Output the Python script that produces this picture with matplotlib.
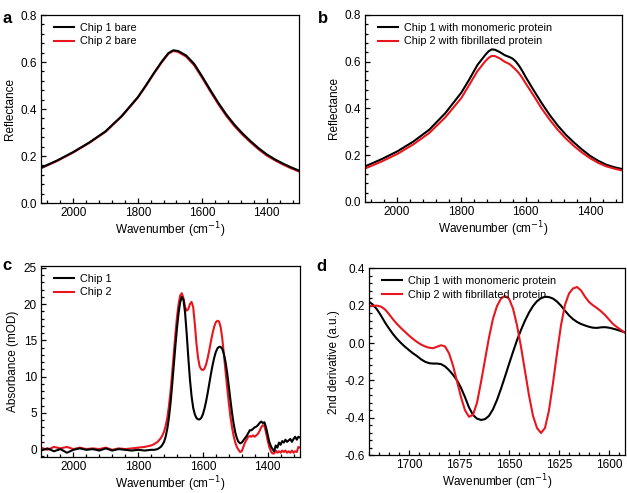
import numpy as np
import matplotlib
matplotlib.use('Agg')
import matplotlib.pyplot as plt
from matplotlib.ticker import AutoMinorLocator, FormatStrFormatter

plt.rcParams['font.family'] = ['Liberation Sans', 'DejaVu Sans']
plt.rcParams['axes.linewidth'] = 0.9

RED = '#e8161d'

# ---- panel a / b : reflectance ----
wn_ab = [2100, 2050, 2000, 1950, 1900, 1850, 1800, 1775, 1750, 1725, 1705, 1690,
         1675, 1650, 1625, 1600, 1575, 1550, 1525, 1500, 1475, 1450, 1425, 1400,
         1375, 1350, 1325, 1300]
a_chip1 = [0.150, 0.181, 0.217, 0.258, 0.305, 0.370, 0.450, 0.500, 0.553, 0.603, 0.638, 0.650,
           0.647, 0.628, 0.592, 0.538, 0.481, 0.426, 0.376, 0.333, 0.296, 0.263, 0.233, 0.207,
           0.186, 0.168, 0.152, 0.138]
a_chip2 = [0.148, 0.179, 0.215, 0.256, 0.303, 0.368, 0.448, 0.498, 0.551, 0.600, 0.635, 0.647,
           0.643, 0.623, 0.586, 0.532, 0.475, 0.420, 0.370, 0.327, 0.290, 0.258, 0.228, 0.202,
           0.182, 0.164, 0.148, 0.134]

wn_b = [2100, 2050, 2000, 1950, 1900, 1850, 1800, 1775, 1750, 1725, 1715, 1705, 1695,
        1680, 1665, 1650, 1640, 1630, 1620, 1610, 1600, 1575, 1550, 1525, 1500, 1475,
        1450, 1425, 1400, 1375, 1350, 1325, 1300]
b_chip1 = [0.152, 0.182, 0.216, 0.258, 0.309, 0.380, 0.468, 0.525, 0.586, 0.630, 0.645, 0.653, 0.651,
           0.641, 0.628, 0.620, 0.613, 0.600, 0.582, 0.560, 0.535, 0.478, 0.423, 0.372, 0.327, 0.288,
           0.255, 0.225, 0.198, 0.177, 0.160, 0.149, 0.141]
b_chip2 = [0.143, 0.172, 0.205, 0.246, 0.295, 0.362, 0.445, 0.502, 0.560, 0.603, 0.617, 0.625, 0.624,
           0.614, 0.600, 0.590, 0.578, 0.565, 0.550, 0.530, 0.508, 0.455, 0.400, 0.352, 0.309, 0.272,
           0.240, 0.212, 0.188, 0.168, 0.153, 0.143, 0.135]

# ---- panel c : absorbance ----
wn_c = list(range(2100, 1759, -20)) + [1750, 1740, 1730] + list(range(1725, 1299, -5))
c_chip1 = [-0.2, 0.1, -0.3, 0.0, -0.5, -0.1, 0.1, -0.1, 0.0, -0.2, 0.1, -0.2, 0.0, -0.1, -0.2, -0.1, -0.2, -0.1,
           -0.1, 0.0, 0.3,
           0.6,
           1.0, 1.7, 2.8, 4.3, 6.3, 8.8, 11.5, 14.2, 16.7, 18.8, 20.3, 21.0, 20.6, 18.8, 15.9, 12.6,
           9.6, 7.3, 5.7, 4.8, 4.3, 4.1, 4.1, 4.3, 4.8, 5.6, 6.6, 7.8, 9.1, 10.4, 11.6, 12.6, 13.4,
           13.9, 14.1, 14.1, 13.8, 13.1, 12.0, 10.5, 8.7, 6.8, 5.0, 3.5, 2.3, 1.5, 1.0, 0.8, 0.9,
           1.2, 1.5, 1.8, 2.2, 2.6, 2.6, 2.8, 3.0, 3.1, 3.3, 3.6, 3.8, 3.6, 3.7, 3.0, 2.0, 1.0, 0.4,
           0.0, -0.3, 0.5, 0.2, 0.9, 0.6, 1.1, 0.9, 1.3, 1.0, 1.2, 1.4, 1.0, 1.4, 1.7, 1.3, 1.7, 1.6]
c_chip2 = [0.2, -0.1, 0.3, 0.1, 0.3, 0.0, 0.2, 0.0, 0.1, 0.0, 0.2, -0.1, 0.1, 0.0, 0.1, 0.2, 0.3, 0.5,
           0.7, 1.0, 1.5,
           1.9,
           2.4, 3.2, 4.3, 5.9, 7.9, 10.4, 13.1, 15.8, 18.2, 20.0, 21.2, 21.5, 20.8, 19.6, 19.1, 19.3,
           20.0, 20.3, 19.6, 17.3, 14.6, 12.6, 11.4, 11.0, 10.9, 11.1, 11.7, 12.6, 13.7, 14.9, 16.0,
           16.9, 17.5, 17.7, 17.6, 16.8, 15.2, 13.0, 10.7, 8.5, 6.4, 4.5, 3.0, 1.8, 0.9, 0.3, -0.1,
           -0.4, -0.3, 0.3, 0.9, 1.3, 1.7, 1.8, 1.7, 1.9, 1.7, 1.9, 2.1, 2.5, 3.0, 3.3, 3.2, 2.3,
           1.2, 0.3, -0.3, -0.6, -0.6, -0.2, -0.5, -0.3, -0.5, -0.2, -0.4, -0.2, -0.5, -0.3, -0.5,
           -0.2, -0.5, -0.3, -0.4, 0.3, 0.2]

# ---- panel d : second derivative ----
wn_d = list(range(1720, 1591, -2))
d_chip1 = [0.222, 0.205, 0.180, 0.147, 0.110, 0.078, 0.048, 0.022, 0.000, -0.020, -0.038, -0.055,
           -0.070, -0.087, -0.100, -0.108, -0.110, -0.110, -0.113, -0.125, -0.145, -0.170, -0.200,
           -0.240, -0.290, -0.345, -0.385, -0.405, -0.412, -0.408, -0.390, -0.355, -0.305, -0.245,
           -0.180, -0.113, -0.048, 0.015, 0.070, 0.120, 0.163, 0.198, 0.224, 0.240, 0.248, 0.246,
           0.238, 0.222, 0.200, 0.173, 0.148, 0.128, 0.113, 0.102, 0.094, 0.087, 0.082, 0.081,
           0.084, 0.085, 0.082, 0.077, 0.071, 0.064, 0.057]
d_chip2 = [0.197, 0.200, 0.200, 0.195, 0.180, 0.155, 0.127, 0.102, 0.080, 0.060, 0.040, 0.022,
           0.006, -0.008, -0.018, -0.025, -0.028, -0.020, -0.012, -0.018, -0.055, -0.120, -0.205,
           -0.290, -0.360, -0.395, -0.385, -0.320, -0.210, -0.090, 0.030, 0.130, 0.198, 0.238,
           0.252, 0.238, 0.185, 0.095, -0.020, -0.150, -0.280, -0.390, -0.455, -0.482, -0.455,
           -0.360, -0.215, -0.055, 0.095, 0.205, 0.265, 0.292, 0.300, 0.282, 0.248, 0.220, 0.202,
           0.187, 0.170, 0.150, 0.126, 0.102, 0.085, 0.070, 0.055]

fig = plt.figure(figsize=(6.27, 4.93), dpi=100)
ax_a = fig.add_axes([0.0654, 0.5882, 0.4115, 0.3813])
ax_b = fig.add_axes([0.5821, 0.5903, 0.4099, 0.3793])
ax_c = fig.add_axes([0.0654, 0.0736, 0.4131, 0.3868])
ax_d = fig.add_axes([0.5885, 0.0770, 0.4083, 0.3787])

lw = 1.5
ax_a.plot(wn_ab, a_chip1, color='black', lw=lw, label='Chip 1 bare', zorder=3)
ax_a.plot(wn_ab, a_chip2, color=RED, lw=lw, label='Chip 2 bare', zorder=2)
ax_b.plot(wn_b, b_chip1, color='black', lw=lw, label='Chip 1 with monomeric protein')
ax_b.plot(wn_b, b_chip2, color=RED, lw=lw, label='Chip 2 with fibrillated protein')
ax_c.plot(wn_c, c_chip1, color='black', lw=lw, label='Chip 1', zorder=3)
ax_c.plot(wn_c, c_chip2, color=RED, lw=lw, label='Chip 2', zorder=2)
ax_d.plot(wn_d, d_chip1, color='black', lw=lw, label='Chip 1 with monomeric protein')
ax_d.plot(wn_d, d_chip2, color=RED, lw=lw, label='Chip 2 with fibrillated protein')

for ax in (ax_a, ax_b):
    ax.set_xlim(2100, 1300)
    ax.set_ylim(0, 0.8)
    ax.set_xticks([2000, 1800, 1600, 1400])
    ax.set_yticks([0, 0.2, 0.4, 0.6, 0.8])
    ax.yaxis.set_major_formatter(FormatStrFormatter('%.1f'))
    ax.set_ylabel('Reflectance', fontsize=8.5, labelpad=3)

ax_c.set_xlim(2100, 1300)
ax_c.set_ylim(-1.05, 25.25)
ax_c.set_xticks([2000, 1800, 1600, 1400])
ax_c.set_yticks([0, 5, 10, 15, 20, 25])
ax_c.set_ylabel('Absorbance (mOD)', fontsize=8.5, labelpad=3)

ax_d.set_xlim(1720, 1592)
ax_d.set_ylim(-0.6, 0.4)
ax_d.set_xticks([1700, 1675, 1650, 1625, 1600])
ax_d.set_yticks([-0.6, -0.4, -0.2, 0.0, 0.2, 0.4])
ax_d.yaxis.set_major_formatter(FormatStrFormatter('%.1f'))
ax_d.set_ylabel('2nd derivative (a.u.)', fontsize=8.5, labelpad=3)

for ax in (ax_a, ax_b, ax_c, ax_d):
    ax.set_xlabel('Wavenumber (cm$^{-1}$)', fontsize=8.5, labelpad=1)
    ax.xaxis.set_minor_locator(AutoMinorLocator(5))
    ax.yaxis.set_minor_locator(AutoMinorLocator(5))
    ax.tick_params(which='both', direction='in', top=False, right=False, labelsize=8.5, width=0.9)
    ax.tick_params(which='major', length=3.5, pad=3)
    ax.tick_params(which='minor', length=2)
    ax.legend(loc='upper left', frameon=False, fontsize=7.8, handlelength=1.9,
              handletextpad=0.55, labelspacing=0.35, borderaxespad=0.3,
              bbox_to_anchor=(0.02, 1.0))

fig.text(0.004, 0.978, 'a', fontsize=12, fontweight='bold', va='top')
fig.text(0.507, 0.978, 'b', fontsize=12, fontweight='bold', va='top')
fig.text(0.004, 0.476, 'c', fontsize=12, fontweight='bold', va='top')
fig.text(0.505, 0.474, 'd', fontsize=12, fontweight='bold', va='top')

fig.savefig('out.png', dpi=100)
